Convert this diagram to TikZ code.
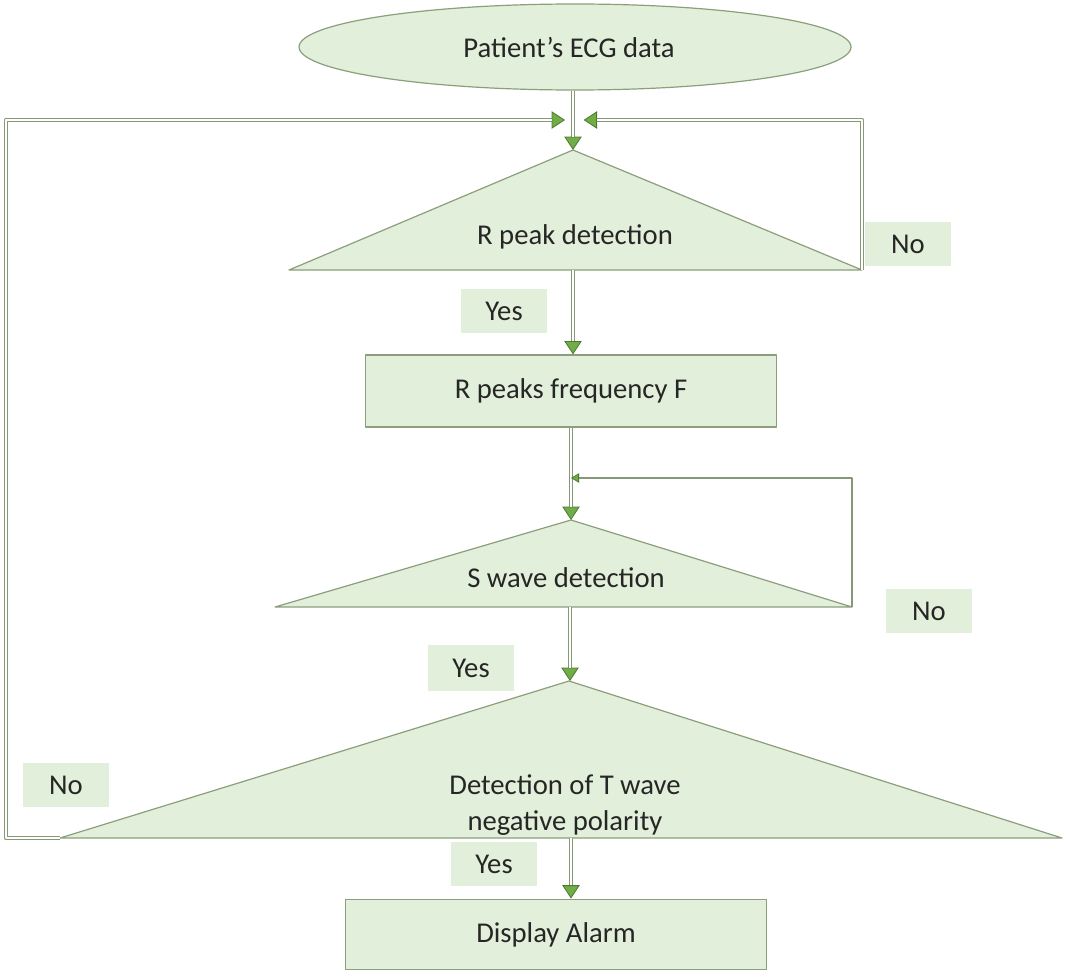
\documentclass[tikz,border=0pt]{standalone}
\usepackage{fontspec}
\setmainfont{Carlito}
\usetikzlibrary{shapes.geometric,arrows.meta}
\definecolor{boxfill}{HTML}{E2EFDA}
\definecolor{boxline}{HTML}{8C9E7C}
\definecolor{headgreen}{HTML}{70AD47}
\definecolor{linegray}{HTML}{879878}

\begin{document}
\begin{tikzpicture}[x=0.75pt,y=-0.75pt,join=round,
    block/.style={draw=boxline,fill=boxfill,line width=0.9pt},
    txt/.style={font=\fontsize{21.5}{27.5}\selectfont,align=center,text=black!85},
    tag/.style={txt,fill=boxfill,minimum width=64pt,minimum height=33pt,inner sep=0pt},
    headtip/.tip={Triangle[length=10pt,width=13pt,line width=0.6pt,fill=headgreen,color=headgreen!70!black]},
    smalltip/.tip={Triangle[length=6pt,width=7pt,line width=0.6pt,fill=headgreen,color=headgreen!70!black]},
    flow/.style={draw=linegray,line width=3.3pt,-headtip,
        postaction={draw=white,line width=1.9pt,-,shorten >=10pt}},
    thinback/.style={draw=linegray,line width=1pt}]
  \useasboundingbox (0,0) rectangle (1066,974);

  % start ellipse
  \node[block,ellipse,minimum width=414pt,minimum height=64.5pt] (ecg) at (575,47) {};
  \node[txt] (ecgtxt) at (569,47) {Patient’s ECG data};

  % decision triangles
  \coordinate (t1top) at (573,150); \coordinate (t1l) at (289,270); \coordinate (t1r) at (862,270);
  \coordinate (t2top) at (571,520); \coordinate (t2l) at (275,607); \coordinate (t2r) at (852,607);
  \coordinate (t3top) at (569,681); \coordinate (t3l) at (60,838);  \coordinate (t3r) at (1062,838);
  \filldraw[block] (t1top)--(t1l)--(t1r)--cycle;
  \filldraw[block] (t2top)--(t2l)--(t2r)--cycle;
  \filldraw[block] (t3top)--(t3l)--(t3r)--cycle;
  \node[txt] (rpeak) at (575,237) {R peak detection};
  \node[txt] (swave) at (566,578) {S wave detection};
  \node[txt] (twave) at (565,805) {Detection of T wave\\negative polarity};

  % boxes
  \node[block,minimum width=308pt,minimum height=54pt] (freq) at (571,391) {};
  \node[txt] at (freq) {R peaks frequency F};
  \node[block,minimum width=316pt,minimum height=53pt] (alarm) at (556,934.5) {};
  \node[txt] at (alarm) {Display Alarm};

  % yes / no tags
  \node[tag] (no1) at (908,244) {No};
  \node[tag] (no2) at (929,611) {No};
  \node[tag] (no3) at (66,785) {No};
  \node[tag] (yes1) at (504,311) {Yes};
  \node[tag,minimum height=35pt] (yes2) at (471,668) {Yes};
  \node[tag] (yes3) at (494,864) {Yes};

  % connectors
  \coordinate (t1b) at (573,270);
  \coordinate (t2b) at (570,607);
  \coordinate (t3b) at (571,838);
  \coordinate (join1) at (573,120);
  \coordinate (join2) at (571,478);
  \draw[flow] (ecg.south -| t1top) -- (t1top);
  \draw[flow] (t1b) -- (t1b |- freq.north);
  \draw[flow] (freq.south -| t2top) -- (t2top);
  \draw[flow] (t2b) -- (t2b |- t3top);
  \draw[flow] (t3b) -- (t3b |- alarm.north);

  % loops back
  \draw[flow] (t1r) -- (t1r |- join1) -- ([xshift=8]join1);
  \draw[flow] (t3l) -- (6,838) -- (6,120) -- ([xshift=-6]join1);
  \draw[thinback,-smalltip] (t2r) -- (t2r |- join2) -- (join2);
\end{tikzpicture}
\end{document}
